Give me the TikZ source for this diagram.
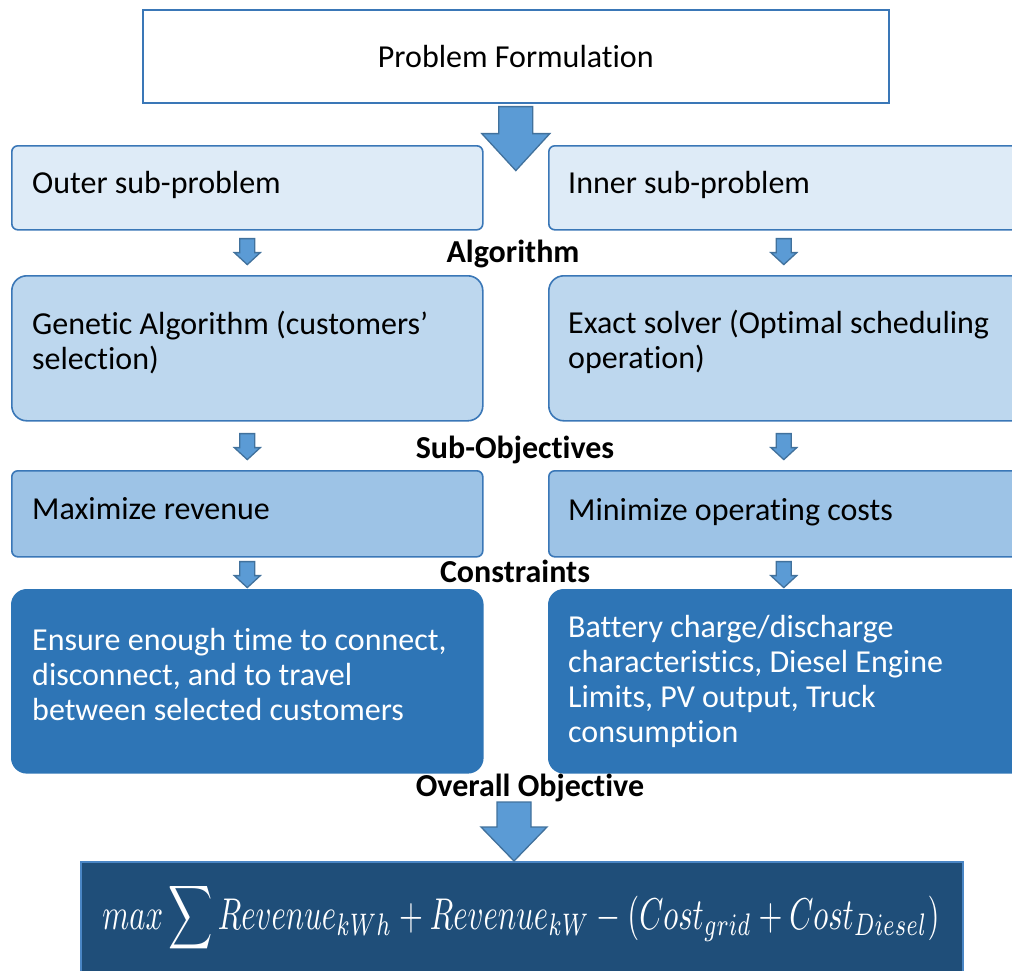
\documentclass[tikz,border=0pt]{standalone}
\usepackage{fontspec}
\setmainfont{Carlito}[Ligatures=NoCommon]
\usepackage{graphicx}
\usetikzlibrary{calc}
\definecolor{bord}{HTML}{3A77B7}
\definecolor{arrbord}{HTML}{41719C}
\definecolor{arrfill}{HTML}{5B9BD5}
\definecolor{fillA}{HTML}{DEEBF7}
\definecolor{fillB}{HTML}{BDD7EE}
\definecolor{fillC}{HTML}{9DC3E6}
\definecolor{fillD}{HTML}{2E75B6}
\definecolor{fillE}{HTML}{1F4E79}
\definecolor{bordE}{HTML}{4A86C5}
\newcommand{\blockarr}[5]{% #1 tail centre, #2 length, #3 shaft half, #4 head half, #5 head length
  \draw[barrow] ($(#1)+(-#3,0)$) -- ($(#1)+(#3,0)$) -- ($(#1)+(#3,#2-#5)$) -- ($(#1)+(#4,#2-#5)$)
    -- ($(#1)+(0,#2)$) -- ($(#1)+(-#4,#2-#5)$) -- ($(#1)+(-#3,#2-#5)$) -- cycle;}
\begin{document}
\begin{tikzpicture}[x=1pt,y=-1pt,
  box/.style={draw=bord, line width=1.6pt, anchor=north west, inner sep=0pt},
  lbox/.style={box, minimum width=471pt},
  rbox/.style={box, minimum width=480pt},
  txt/.style={anchor=west, inner sep=0pt, align=left, font=\fontsize{32}{35}\selectfont},
  sq/.style={rounded corners=6pt},
  rnd/.style={rounded corners=15pt},
  lbl/.style={font=\fontsize{32}{35}\selectfont\bfseries},
  barrow/.style={draw=arrbord, fill=arrfill, line width=1.3pt, line join=miter}]
\useasboundingbox (0,0) rectangle (1012,970);
\clip (0,0) rectangle (1012,970);

\node[box, fill=white, minimum width=746pt, minimum height=93pt,
  font=\fontsize{32}{35}\selectfont] (top) at (142,9) {Problem Formulation};

% row 1
\node[lbox, sq, fill=fillA, minimum height=84pt] (outer) at (11,145) {};
\node[rbox, sq, fill=fillA, minimum height=84pt] (inner) at (548,145) {};
\node[txt] (outerT) at ($(outer.west)+(21,-3)$) {Outer sub-problem};
\node[txt] (innerT) at ($(inner.west)+(20,-3)$) {Inner sub-problem};

\node[lbl] (alg) at (513,254) {Algorithm};

% row 2
\node[lbox, rnd, fill=fillB, minimum height=145pt] (gen) at (11,275) {};
\node[rbox, rnd, fill=fillB, minimum height=145pt] (exact) at (548,275) {};
\node[txt] (genT) at ($(gen.west)+(21,-6)$) {Genetic Algorithm (customers’\\selection)};
\node[txt] (exactT) at ($(exact.west)+(20,-6)$) {Exact solver (Optimal scheduling\\operation)};

\node[lbl] (subobj) at (515,450) {Sub-Objectives};

% row 3
\node[lbox, sq, fill=fillC, minimum height=86pt] (maxrev) at (11,470) {};
\node[rbox, sq, fill=fillC, minimum height=86pt] (mincost) at (548,470) {};
\node[txt] (maxrevT) at ($(maxrev.west)+(21,-5)$) {Maximize revenue};
\node[txt] (mincostT) at ($(mincost.west)+(20,-2)$) {Minimize operating costs};

\node[lbl] (cons) at (515,571) {Constraints};

% row 4
\node[lbox, rnd, fill=fillD, draw=fillD, minimum height=183pt] (ensure) at (11,589) {};
\node[rbox, rnd, fill=fillD, draw=fillD, minimum height=183pt] (battery) at (548,589) {};
\node[txt, text=white] (ensureT) at ($(ensure.west)+(21,-7)$)
  {Ensure enough time to connect,\\disconnect, and to travel\\between selected customers};
\node[txt, text=white] (batteryT) at ($(battery.west)+(20,0)$)
  {Battery charge/discharge\\characteristics, Diesel Engine\\Limits, PV output, Truck\\consumption};

\node[lbl] (overall) at (530,788) {Overall Objective};

\node[box, fill=fillE, draw=bordE, minimum width=882pt, minimum height=130pt] (final) at (80,861) {};
\node[text=white, inner sep=0pt] (formula) at (521,918)
  {\scalebox{1}[1.45]{\resizebox{837pt}{!}{$\displaystyle max\sum Revenue_{kWh}+Revenue_{kW}-(Cost_{grid}+Cost_{Diesel})$}}};

% block arrows
\coordinate (t0) at ($(top.south)+(0,3)$);
\blockarr{t0}{64}{17}{34}{37}
\coordinate (t1) at ($(outer.south)+(0,8)$);
\coordinate (t2) at ($(inner.south)+(-5,8)$);
\blockarr{t1}{26}{7.5}{13}{12}
\blockarr{t2}{26}{7.5}{13}{12}
\coordinate (t3) at ($(gen.south)+(0,12)$);
\coordinate (t4) at ($(exact.south)+(-5,12)$);
\blockarr{t3}{26}{7.5}{13}{12}
\blockarr{t4}{26}{7.5}{13}{12}
\coordinate (t5) at ($(maxrev.south)+(0,4)$);
\coordinate (t6) at ($(mincost.south)+(-5,4)$);
\blockarr{t5}{26}{7.5}{13}{12}
\blockarr{t6}{26}{7.5}{13}{12}
\coordinate (t7) at (514,802);
\blockarr{t7}{59}{17}{33}{34}
\end{tikzpicture}
\end{document}
